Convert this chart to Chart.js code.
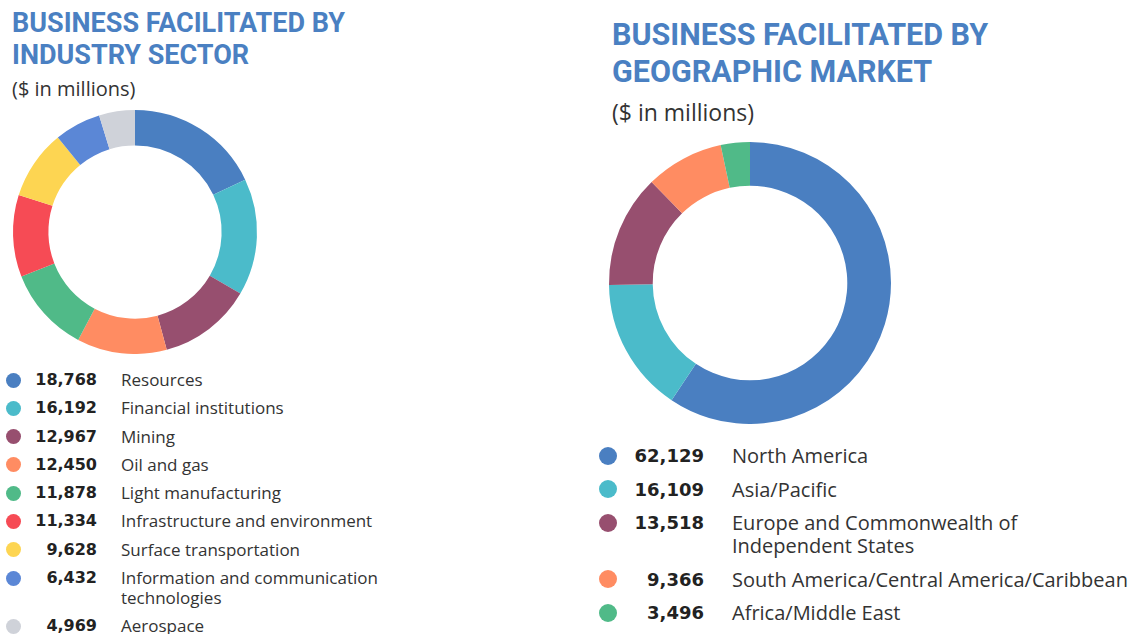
<!DOCTYPE html>
<html>
<head>
<meta charset="utf-8">
<script src="https://cdn.jsdelivr.net/npm/chart.js@4.4.0/dist/chart.umd.min.js"></script>
<style>
    body { margin: 0; background: #fff; width: 1131px; height: 634px; overflow: hidden; position: relative; font-family: "Open Sans", sans-serif; color: #333; }
    .title { position: absolute; color: #4a80c2; font-family: Roboto, sans-serif; font-weight: bold; margin: 0; white-space: nowrap; }
    .sub { position: absolute; color: #333; }
    .box { position: absolute; }
    .legend { position: absolute; }
    .row { position: relative; }
    .row .dot { position: absolute; border-radius: 50%; }
    .row .num { position: absolute; text-align: right; font-weight: bold; color: #222; font-family: "DejaVu Sans", sans-serif; }
    .row .lbl { position: absolute; color: #333; }
</style>
</head>
<body>
<h1 class="title" style="left:12px;top:7px;font-size:27px;line-height:32px;">BUSINESS FACILITATED BY<br>INDUSTRY SECTOR</h1>
<div class="sub" style="left:12px;top:75px;font-size:20px;">($ in millions)</div>
<div class="box" style="left:11px;top:110px;width:248px;height:244px;"><canvas id="sectorChart"></canvas></div>
<div class="legend" id="sectorLegend" style="left:0;top:370px;"></div>

<h1 class="title" style="left:612px;top:16px;font-size:30.5px;line-height:37px;">BUSINESS FACILITATED BY<br>GEOGRAPHIC MARKET</h1>
<div class="sub" style="left:612px;top:96px;font-size:23px;">($ in millions)</div>
<div class="box" style="left:608px;top:142px;width:284px;height:282px;"><canvas id="geoChart"></canvas></div>
<div class="legend" id="geoLegend" style="left:590px;top:444px;"></div>

<script>
// industry sector
var sectorLabels = ["Resources", "Financial institutions", "Mining", "Oil and gas", "Light manufacturing",
    "Infrastructure and environment", "Surface transportation", "Information and communication technologies", "Aerospace"];
var sectorValues = [18768, 16192, 12967, 12450, 11878, 11334, 9628, 6432, 4969];
var sectorColors = ["#4a7fc1", "#4bbbca", "#974f6f", "#ff8c62", "#50ba88", "#f64b55", "#fdd552", "#5b87d6", "#cfd2d9"];

// geographic market
var geoLabels = ["North America", "Asia/Pacific", "Europe and Commonwealth of Independent States",
    "South America/Central America/Caribbean", "Africa/Middle East"];
var geoValues = [62129, 16109, 13518, 9366, 3496];
var geoColors = ["#4a7fc1", "#4bbbca", "#974f6f", "#ff8c62", "#50ba88"];

function makeDonut(id, labels, values, colors, cut) {
    return new Chart(document.getElementById(id), {
        type: 'doughnut',
        data: {
            labels: labels,
            datasets: [{ data: values, backgroundColor: colors, borderWidth: 0 }]
        },
        options: {
            responsive: true,
            maintainAspectRatio: false,
            animation: false,
            cutout: cut,
            plugins: { legend: { display: false }, tooltip: { enabled: false } }
        }
    });
}

function makeLegend(id, labels, values, colors, opt) {
    var el = document.getElementById(id);
    var html = "";
    for (var i = 0; i < labels.length; i++) {
        var lbl = labels[i];
        if (opt.wrap[i]) lbl = opt.wrap[i];
        var lines = opt.wrap[i] ? 2 : 1;
        var h = opt.rowH + (lines - 1) * opt.lineH;
        html += '<div class="row" style="height:' + h + 'px;line-height:' + opt.lineH + 'px;">' +
            '<span class="dot" style="left:' + opt.dotX + 'px;top:' + (opt.lineH / 2 - opt.dot / 2) + 'px;width:' + opt.dot + 'px;height:' + opt.dot + 'px;background:' + colors[i] + ';"></span>' +
            '<span class="num" style="left:0;width:' + opt.numR + 'px;font-size:' + opt.numFont + 'px;">' + values[i].toLocaleString('en-US') + '</span>' +
            '<span class="lbl" style="left:' + opt.lblX + 'px;white-space:nowrap;font-size:' + opt.font + 'px;">' + lbl + '</span></div>';
    }
    el.innerHTML = html;
}

makeDonut('sectorChart', sectorLabels, sectorValues, sectorColors, '71%');
makeDonut('geoChart', geoLabels, geoValues, geoColors, '69%');

makeLegend('sectorLegend', sectorLabels, sectorValues, sectorColors, {
    font: 17, numFont: 16, lineH: 20, rowH: 28.3, dot: 15, dotX: 6, numR: 97, lblX: 121,
    wrap: { 7: "Information and communication<br>technologies" }
});
makeLegend('geoLegend', geoLabels, geoValues, geoColors, {
    font: 20, numFont: 18, lineH: 23, rowH: 33.5, dot: 18, dotX: 9, numR: 114, lblX: 142,
    wrap: { 2: "Europe and Commonwealth of<br>Independent States" }
});
</script>
</body>
</html>
